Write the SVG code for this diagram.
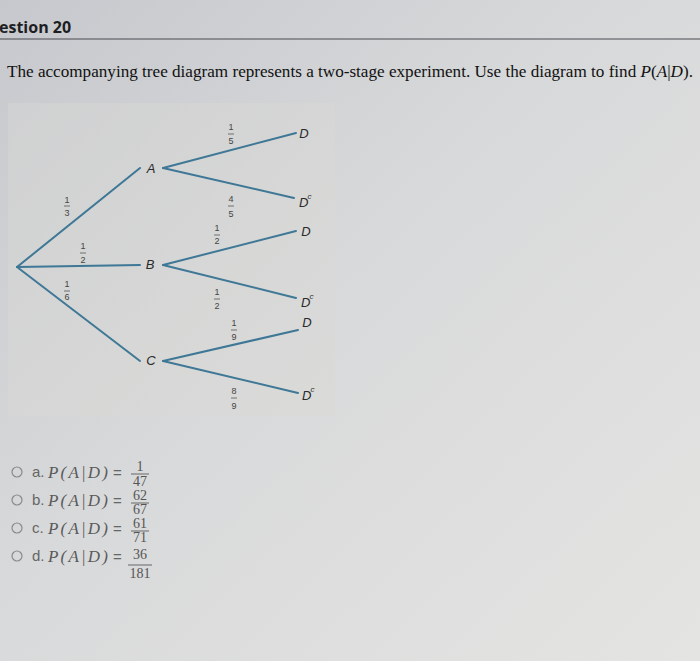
<svg xmlns="http://www.w3.org/2000/svg" width="700" height="661" viewBox="0 0 700 661">
<defs>
<linearGradient id="bg" x1="0" y1="0" x2="1" y2="1">
<stop offset="0" stop-color="#c6c8cd"/>
<stop offset="0.45" stop-color="#d8d9da"/>
<stop offset="1" stop-color="#e4e4e2"/>
</linearGradient>
<style>
.hdr{font-family:"Open Sans","DejaVu Sans",sans-serif;font-weight:bold;font-size:16px;fill:#1e1e22}
.q{font-family:"Liberation Serif",serif;font-size:16.5px;fill:#111}
.it{font-style:italic}
.br{stroke:#3f7896;stroke-width:2;fill:none;stroke-linecap:round}
.nl{font-family:"Liberation Sans",Arial,sans-serif;font-style:italic;font-size:13px;fill:#2a2a2a;text-anchor:middle}
.nd{font-family:"Liberation Sans",Arial,sans-serif;font-style:italic;font-size:13px;fill:#2a2a2a}
.sup{font-size:8px}
.fr{font-family:"Liberation Sans",Arial,sans-serif;font-size:9px;fill:#444;text-anchor:middle}
.bar{stroke:#555;stroke-width:0.8}
.opt{font-family:"Liberation Sans",Arial,sans-serif;font-size:15px;fill:#666}
.pe{font-family:"Liberation Serif",serif;font-style:italic;font-size:17px;fill:#5a5a5a}
.of{font-family:"Liberation Serif",serif;font-size:14px;fill:#555;text-anchor:middle}
.ob{stroke:#666;stroke-width:1}
.rad{fill:none;stroke:#8a8a8a;stroke-width:1.2}
</style>
</defs>
<rect width="700" height="661" fill="url(#bg)"/>
<text class="hdr" x="-1" y="33">estion 20</text>
<line x1="0" y1="39" x2="700" y2="39" stroke="#4a4a50" stroke-width="1"/>
<text class="q" x="7" y="77" textLength="686" lengthAdjust="spacingAndGlyphs">The accompanying tree diagram represents a two-stage experiment. Use the diagram to find <tspan class="it">P</tspan>(<tspan class="it">A</tspan>|<tspan class="it">D</tspan>).</text>

<rect x="8" y="103" width="327" height="313" fill="#dadad4" opacity="0.4"/>

<g id="connectors">
<line class="br" x1="17" y1="267" x2="140" y2="168"/>
<line class="br" x1="17" y1="267" x2="140" y2="265"/>
<line class="br" x1="17" y1="267" x2="140" y2="361"/>
<line class="br" x1="163" y1="168" x2="296" y2="133"/>
<line class="br" x1="163" y1="168" x2="294" y2="198"/>
<line class="br" x1="163" y1="265" x2="296" y2="231"/>
<line class="br" x1="163" y1="265" x2="296" y2="298"/>
<line class="br" x1="163" y1="361" x2="298" y2="330"/>
<line class="br" x1="163" y1="361" x2="298" y2="393"/>
</g>

<g id="edge-labels">
<g><text class="fr" x="67" y="203">1</text><line class="bar" x1="64" y1="206" x2="70" y2="206"/><text class="fr" x="67" y="216">3</text></g>
<g><text class="fr" x="83" y="249">1</text><line class="bar" x1="80" y1="253" x2="86" y2="253"/><text class="fr" x="83" y="263">2</text></g>
<g><text class="fr" x="67" y="287">1</text><line class="bar" x1="64" y1="291" x2="70" y2="291"/><text class="fr" x="67" y="300">6</text></g>
<g><text class="fr" x="231" y="130">1</text><line class="bar" x1="228" y1="134" x2="234" y2="134"/><text class="fr" x="231" y="144">5</text></g>
<g><text class="fr" x="231" y="202">4</text><line class="bar" x1="228" y1="206" x2="234" y2="206"/><text class="fr" x="231" y="217">5</text></g>
<g><text class="fr" x="217" y="231">1</text><line class="bar" x1="214" y1="235" x2="220" y2="235"/><text class="fr" x="217" y="244">2</text></g>
<g><text class="fr" x="217" y="295">1</text><line class="bar" x1="214" y1="299" x2="220" y2="299"/><text class="fr" x="217" y="309">2</text></g>
<g><text class="fr" x="234" y="326">1</text><line class="bar" x1="231" y1="330" x2="237" y2="330"/><text class="fr" x="234" y="340">9</text></g>
<g><text class="fr" x="234" y="394">8</text><line class="bar" x1="231" y1="398" x2="237" y2="398"/><text class="fr" x="234" y="409">9</text></g>
</g>

<g id="node-A"><text class="nl" x="151" y="173">A</text></g>
<g id="node-B"><text class="nl" x="150" y="269">B</text></g>
<g id="node-C"><text class="nl" x="151" y="365">C</text></g>
<g id="node-AD"><text class="nl" x="304" y="138">D</text></g>
<g id="node-ADc"><text class="nd" x="299" y="207">D<tspan class="sup" dx="-1" dy="-8">c</tspan></text></g>
<g id="node-BD"><text class="nl" x="306" y="236">D</text></g>
<g id="node-BDc"><text class="nd" x="301" y="307">D<tspan class="sup" dx="-1" dy="-8">c</tspan></text></g>
<g id="node-CD"><text class="nl" x="307" y="327">D</text></g>
<g id="node-CDc"><text class="nd" x="302" y="400">D<tspan class="sup" dx="-1" dy="-8">c</tspan></text></g>

<g id="options">
<g><circle class="rad" cx="17" cy="472" r="5"/><text class="opt" x="32" y="477">a.</text><text class="pe" x="48" y="478" textLength="60" lengthAdjust="spacing">P(A|D)</text><text class="opt" x="113" y="478">=</text><text class="of" x="140" y="471">1</text><line class="ob" x1="131" y1="474" x2="149" y2="474"/><text class="of" x="140" y="486">47</text></g>
<g><circle class="rad" cx="17" cy="500" r="5"/><text class="opt" x="32" y="505">b.</text><text class="pe" x="48" y="506" textLength="60" lengthAdjust="spacing">P(A|D)</text><text class="opt" x="113" y="506">=</text><text class="of" x="140" y="500">62</text><line class="ob" x1="131" y1="503" x2="149" y2="503"/><text class="of" x="140" y="514">67</text></g>
<g><circle class="rad" cx="17" cy="528" r="5"/><text class="opt" x="32" y="533">c.</text><text class="pe" x="48" y="534" textLength="60" lengthAdjust="spacing">P(A|D)</text><text class="opt" x="113" y="534">=</text><text class="of" x="140" y="528">61</text><line class="ob" x1="131" y1="531" x2="149" y2="531"/><text class="of" x="140" y="542">71</text></g>
<g><circle class="rad" cx="17" cy="556" r="5"/><text class="opt" x="32" y="561">d.</text><text class="pe" x="48" y="562" textLength="60" lengthAdjust="spacing">P(A|D)</text><text class="opt" x="113" y="562">=</text><text class="of" x="140" y="559">36</text><line class="ob" x1="128" y1="565" x2="152" y2="565"/><text class="of" x="140" y="578">181</text></g>
</g>
</svg>
